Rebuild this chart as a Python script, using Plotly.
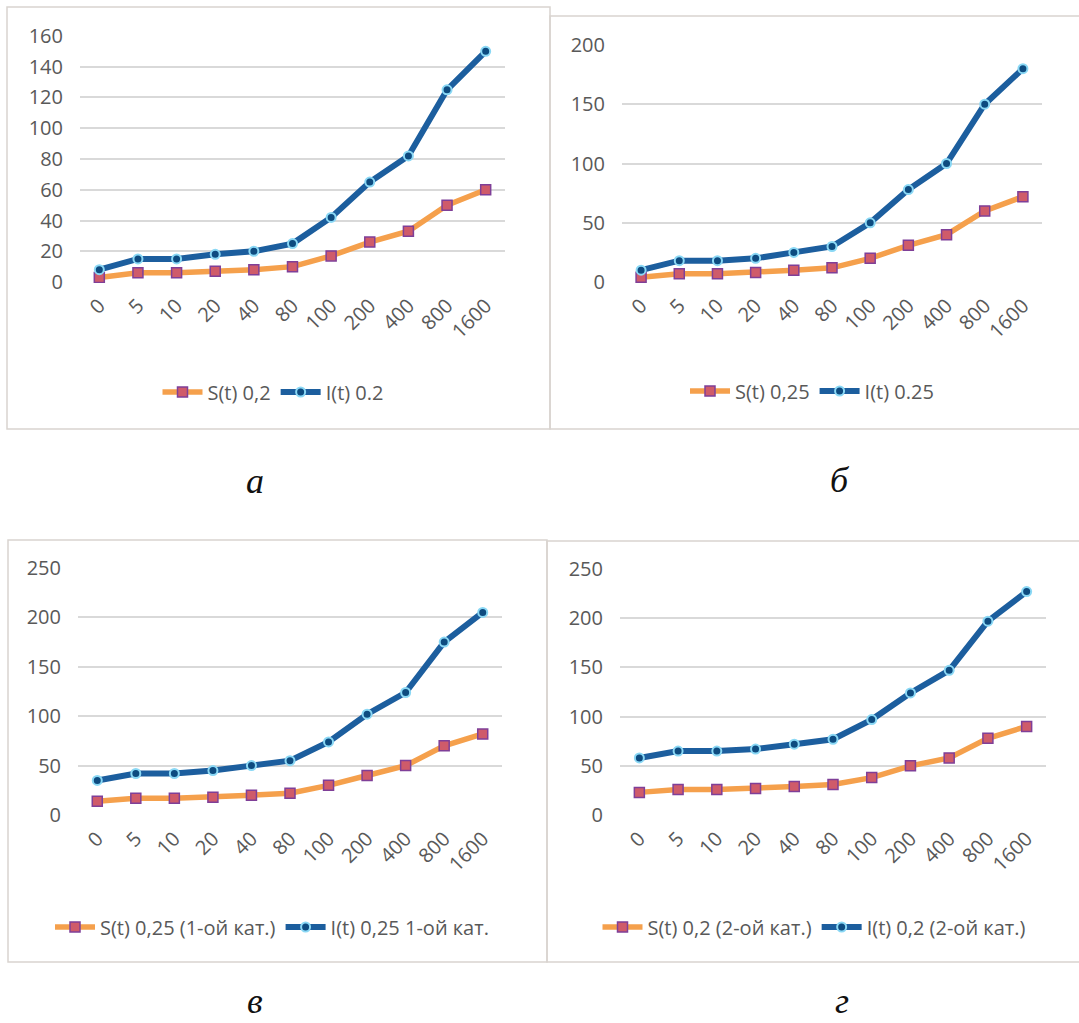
import plotly.graph_objects as go

# Time points (category axis)
t_labels = ["0", "5", "10", "20", "40", "80", "100", "200", "400", "800", "1600"]

# Panel а: rate 0.2
s_a = [3, 6, 6, 7, 8, 10, 17, 26, 33, 50, 60]
i_a = [8, 15, 15, 18, 20, 25, 42, 65, 82, 125, 150]

# Panel б: rate 0.25
s_b = [4, 7, 7, 8, 10, 12, 20, 31, 40, 60, 72]
i_b = [10, 18, 18, 20, 25, 30, 50, 78, 100, 150, 180]

# Panel в: rate 0.25, category 1
s_c = [14, 17, 17, 18, 20, 22, 30, 40, 50, 70, 82]
i_c = [35, 42, 42, 45, 50, 55, 74, 102, 124, 175, 205]

# Panel г: rate 0.2, category 2
s_d = [23, 26, 26, 27, 29, 31, 38, 50, 58, 78, 90]
i_d = [58, 65, 65, 67, 72, 77, 97, 124, 147, 197, 227]

names_s = ["S(t) 0,2", "S(t) 0,25", "S(t) 0,25 (1-ой кат.)", "S(t) 0,2 (2-ой кат.)"]
names_i = ["I(t) 0.2", "I(t) 0.25", "I(t) 0,25 1-ой кат.", "I(t) 0,2 (2-ой кат.)"]
panel_letters = ["а", "б", "в", "г"]

W, H = 1079, 1023
TEXT = "#595959"
GRID = "#d9d9d9"
ORANGE = "#F5A04C"
BLUE = "#1C5E9E"
FONT = "Open Sans"

# pixel layout of each panel: plot box, y max, y step, legend centre, frame, letter position
panels = [
    dict(plot=(80, 35, 505, 283), ymax=160, dtick=20, leg=(273, 392),
         frame=(7, 7, 550, 429), letter=(255, 481)),
    dict(plot=(622, 44, 1042, 283), ymax=200, dtick=50, leg=(812, 391),
         frame=(550, 16, 1082, 429), letter=(840, 480)),
    dict(plot=(78, 567, 502, 816), ymax=250, dtick=50, leg=(272, 927),
         frame=(8, 540, 547, 962), letter=(255, 1001)),
    dict(plot=(620, 568, 1046, 816), ymax=250, dtick=50, leg=(814, 927),
         frame=(547, 541, 1082, 962), letter=(842, 1001)),
]
series = [(s_a, i_a), (s_b, i_b), (s_c, i_c), (s_d, i_d)]

fig = go.Figure()
layout = {}
shapes = []
annotations = []

for k, (p, (s_vals, i_vals)) in enumerate(zip(panels, series)):
    n = k + 1
    xa = "x" if n == 1 else f"x{n}"
    ya = "y" if n == 1 else f"y{n}"
    leg = "legend" if n == 1 else f"legend{n}"

    fig.add_trace(go.Scatter(
        x=t_labels, y=s_vals, name=names_s[k], mode="lines+markers",
        xaxis=xa, yaxis=ya, legend=leg,
        line=dict(color=ORANGE, width=5.5),
        marker=dict(symbol="square", size=10, color="#CF5B6A",
                    line=dict(color="#7F3F98", width=1.5)),
    ))
    fig.add_trace(go.Scatter(
        x=t_labels, y=i_vals, name=names_i[k], mode="lines+markers",
        xaxis=xa, yaxis=ya, legend=leg,
        line=dict(color=BLUE, width=6),
        marker=dict(symbol="circle", size=9, color="#0D4B80",
                    line=dict(color="#8AD8F5", width=2)),
    ))

    x0, y0, x1, y1 = p["plot"]
    pad = p["ymax"] * 0.004
    layout["xaxis" if n == 1 else f"xaxis{n}"] = dict(
        domain=[x0 / W, x1 / W], anchor=ya, type="category",
        range=[-0.5, 10.5], tickangle=-45, showgrid=False, zeroline=False,
        showline=False, ticks="", ticklabelstandoff=6, automargin=False,
        tickfont=dict(family=FONT, size=20, color=TEXT),
    )
    layout["yaxis" if n == 1 else f"yaxis{n}"] = dict(
        domain=[1 - y1 / H, 1 - y0 / H], anchor=xa,
        range=[-pad, p["ymax"] + pad], dtick=p["dtick"], tick0=0,
        showgrid=True, gridcolor=GRID, gridwidth=1.5, zeroline=False,
        showline=False, ticks="", ticklabelstandoff=16, automargin=False,
        tickfont=dict(family=FONT, size=20, color=TEXT),
    )
    lx, ly = p["leg"]
    layout[leg] = dict(
        orientation="h", x=lx / W, y=1 - ly / H, xanchor="center",
        yanchor="middle", bgcolor="rgba(0,0,0,0)", itemwidth=40,
        font=dict(family=FONT, size=20, color=TEXT),
    )

    fx0, fy0, fx1, fy1 = p["frame"]
    shapes.append(dict(
        type="rect", xref="paper", yref="paper",
        x0=fx0 / W, x1=fx1 / W, y0=1 - fy1 / H, y1=1 - fy0 / H,
        line=dict(color="#d9d4d0", width=1.5), layer="below",
    ))
    cx, cy = p["letter"]
    annotations.append(dict(
        text=f"<i>{panel_letters[k]}</i>", xref="paper", yref="paper",
        x=cx / W, y=1 - cy / H, xanchor="center", yanchor="middle",
        showarrow=False,
        font=dict(family="Liberation Serif", size=36, color="#111111"),
    ))

fig.update_layout(
    width=W, height=H, margin=dict(l=0, r=0, t=0, b=0),
    paper_bgcolor="white", plot_bgcolor="white",
    shapes=shapes, annotations=annotations, **layout,
)

fig.write_html("out.html", config={"displayModeBar": False})
